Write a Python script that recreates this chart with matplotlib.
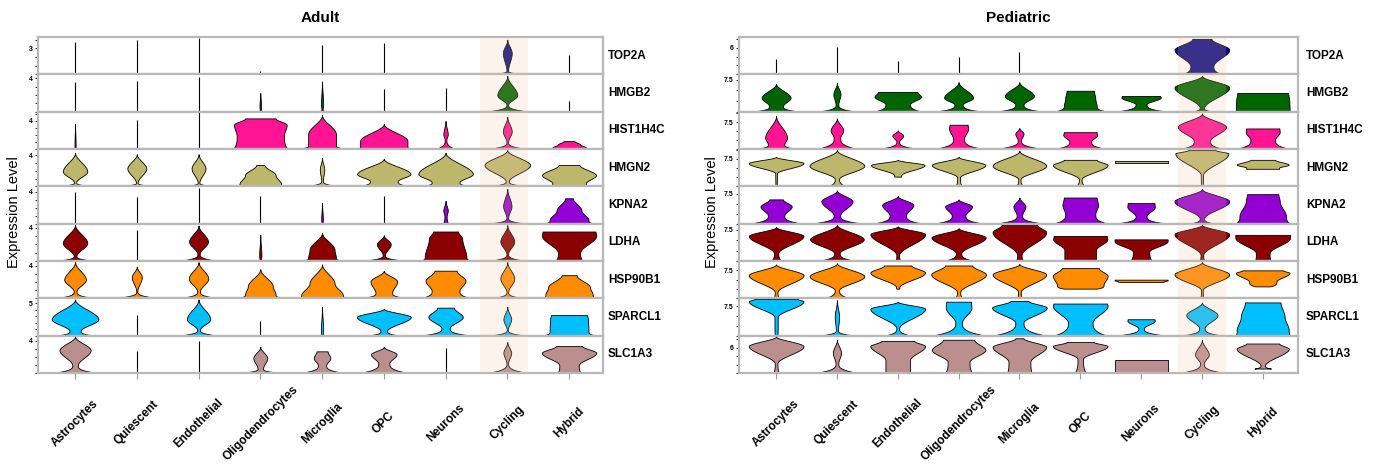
import matplotlib.pyplot as plt
import numpy as np

plt.rcParams['font.family'] = ['Liberation Sans', 'DejaVu Sans']

# ---------------------------------------------------------------------
# Data
# ---------------------------------------------------------------------

cell_types = ['Astrocytes', 'Quiescent', 'Endothelial', 'Oligodendrocytes',
              'Microglia', 'OPC', 'Neurons', 'Cycling', 'Hybrid']
genes = ['TOP2A', 'HMGB2', 'HIST1H4C', 'HMGN2', 'KPNA2',
         'LDHA', 'HSP90B1', 'SPARCL1', 'SLC1A3']
gene_colors = ['#0c0c84', 'darkgreen', 'deeppink', 'darkkhaki', 'darkviolet',
               'darkred', 'darkorange', 'deepskyblue', 'rosybrown']

# y axis of every row: (row max, tick step, labelled tick)
adult_axis = [(4.3, 1, 3), (4.5, 1, 4), (5.3, 1, 4), (4.8, 1, 4), (4.65, 1, 4),
              (4.5, 1, 4), (4.55, 1, 4), (5.8, 1, 5), (4.65, 1, 4)]
ped_axis = [(8.45, 2, 6), (8.8, 2.5, 7.5), (10.5, 2.5, 7.5), (10.2, 2.5, 7.5),
            (9.4, 2.5, 7.5), (9.0, 2.5, 7.5), (10.0, 2.5, 7.5), (9.5, 2.5, 7.5),
            (8.8, 2, 6)]

# violin profile, one per cell type
# (bottom, top, top_w, bulge_y, bulge_w, neck_y, neck_w, base_w)
# heights are a fraction of the row, widths a fraction of the full violin width
# a plain number is a single spike of that height, None is nothing drawn
adult_top2a = [0.87, 0.91, 0.96, 0.09, 0.78, 0.84, None,
               (0, 0.93, 0, 0.57, 0.16, 0.10, 0.03, 0.80), 0.52]
adult_hmgb2 = [0.79, 0.82, 0.93,
               (0, 0.50, 0, 0.15, 0.03, 0.04, 0.02, 0.12),
               (0, 0.81, 0, 0.20, 0.04, 0.05, 0.02, 0.36),
               0.61, 0.64,
               (0, 0.96, 0, 0.44, 0.36, 0.19, 0.03, 0.83), 0.28]
adult_hist1h4c = [(0, 0.68, 0, 0.10, 0.02, 0.05, 0.02, 0.06), 0.78, 1.0,
                  (0, 0.82, 0.55, 0.65, 0.95, 0.35, 0.85, 0.98),
                  (0, 0.91, 0, 0.40, 0.50, 0.10, 0.50, 0.98),
                  (0, 0.67, 0, 0.22, 0.85, 0.08, 0.85, 0.97),
                  (0, 0.75, 0, 0.39, 0.08, 0.25, 0.03, 0.36),
                  (0, 0.86, 0, 0.47, 0.16, 0.19, 0.03, 0.72),
                  (0, 0.21, 0.20, 0.12, 0.40, 0.04, 0.60, 0.85)]
adult_hmgn2 = [(0, 0.90, 0, 0.40, 0.44, 0.11, 0.04, 0.77),
               (0, 0.86, 0, 0.48, 0.34, 0.10, 0.03, 0.89),
               (0, 0.86, 0, 0.48, 0.25, 0.10, 0.03, 0.77),
               (0, 0.57, 0.15, 0.30, 0.55, 0.06, 0.75, 0.97),
               (0, 0.76, 0, 0.45, 0.08, 0.15, 0.03, 0.68),
               (0, 0.74, 0, 0.33, 0.96, 0.14, 0.50, 0.98),
               (0, 0.90, 0, 0.33, 0.98, 0.11, 0.50, 0.99),
               (0, 0.97, 0, 0.57, 0.82, 0.14, 0.06, 0.76),
               (0, 0.57, 0.38, 0.30, 0.97, 0.08, 0.60, 0.75)]
adult_kpna2 = [0.84, 0.72, 0.95, 0.75,
               (0, 0.56, 0, 0.10, 0.03, 0.04, 0.02, 0.10), 0.75,
               (0, 0.61, 0, 0.35, 0.08, 0.20, 0.04, 0.10),
               (0, 0.93, 0, 0.47, 0.15, 0.16, 0.03, 0.70),
               (0, 0.68, 0.14, 0.35, 0.45, 0.10, 0.70, 0.90)]
adult_ldha = [(0, 0.97, 0, 0.48, 0.44, 0.14, 0.05, 0.83), 0.83,
              (0, 0.95, 0, 0.52, 0.34, 0.19, 0.04, 0.77),
              (0, 0.70, 0, 0.15, 0.04, 0.05, 0.03, 0.12),
              (0, 0.76, 0, 0.30, 0.45, 0.08, 0.50, 0.92),
              (0, 0.69, 0, 0.45, 0.25, 0.16, 0.04, 0.91),
              (0, 0.79, 0.45, 0.60, 0.60, 0.10, 0.75, 0.97),
              (0, 0.96, 0, 0.52, 0.25, 0.19, 0.03, 0.70),
              (0, 0.79, 0.95, 0.68, 0.98, 0.22, 0.40, 0.50)]
adult_hsp90b1 = [(0, 0.97, 0, 0.50, 0.39, 0.19, 0.05, 0.77),
                 (0, 0.85, 0, 0.57, 0.18, 0.19, 0.02, 0.88),
                 (0, 0.97, 0, 0.53, 0.35, 0.19, 0.05, 0.77),
                 (0, 0.78, 0, 0.32, 0.45, 0.10, 0.55, 0.97),
                 (0, 0.91, 0, 0.40, 0.45, 0.08, 0.75, 0.97),
                 (0, 0.74, 0, 0.45, 0.48, 0.15, 0.30, 0.92),
                 (0, 0.74, 0.40, 0.47, 0.72, 0.20, 0.50, 0.96),
                 (0, 0.97, 0, 0.53, 0.25, 0.17, 0.03, 0.63),
                 (0, 0.62, 0.27, 0.30, 0.75, 0.10, 0.85, 0.97)]
adult_sparcl1 = [(0, 0.97, 0, 0.44, 0.84, 0.13, 0.20, 0.74), 0.55,
                 (0, 0.97, 0, 0.44, 0.42, 0.16, 0.05, 0.77), 0.39,
                 (0, 0.77, 0, 0.15, 0.04, 0.05, 0.03, 0.10),
                 (0, 0.72, 0, 0.50, 0.97, 0.13, 0.12, 0.62),
                 (0, 0.75, 0.30, 0.50, 0.62, 0.20, 0.15, 0.95),
                 (0, 0.77, 0, 0.44, 0.14, 0.16, 0.02, 0.70),
                 (0, 0.55, 0.65, 0.45, 0.68, 0.12, 0.70, 0.97)]
adult_slc1a3 = [(0, 0.98, 0, 0.61, 0.56, 0.21, 0.10, 0.84), 0.58, 0.86,
                (0, 0.70, 0, 0.40, 0.25, 0.12, 0.10, 0.87),
                (0, 0.58, 0.20, 0.40, 0.30, 0.21, 0.15, 0.81),
                (0, 0.70, 0, 0.50, 0.46, 0.26, 0.20, 0.91), 0.68,
                (0, 0.83, 0, 0.54, 0.14, 0.26, 0.03, 0.73),
                (0, 0.72, 0.48, 0.54, 0.98, 0.21, 0.35, 0.42)]

ped_top2a = [0.41, 0.73, 0.37, 0.46, 0.59, None, None,
             (0, 0.95, 0.35, 0.66, 1.0, 0.22, 0.42, 0.75), None]
ped_hmgb2 = [(0, 0.75, 0, 0.37, 0.53, 0.15, 0.25, 0.91),
             (0, 0.77, 0, 0.47, 0.13, 0.19, 0.05, 0.73),
             (0, 0.53, 0.72, 0.40, 0.85, 0.20, 0.45, 0.90),
             (0, 0.79, 0, 0.37, 0.53, 0.19, 0.15, 0.90),
             (0, 0.79, 0, 0.42, 0.53, 0.19, 0.15, 0.90),
             (0, 0.56, 0.50, 0.35, 0.55, 0.15, 0.60, 1.0),
             (0, 0.42, 0.70, 0.38, 0.72, 0.20, 0.20, 0.97),
             (0, 0.96, 0, 0.65, 1.0, 0.10, 0.08, 0.45),
             (0, 0.50, 0.93, 0.30, 0.97, 0.10, 0.98, 1.0)]
ped_hist1h4c = [(0, 0.89, 0, 0.30, 0.40, 0.12, 0.30, 0.85),
                (0, 0.82, 0, 0.50, 0.23, 0.30, 0.12, 0.75),
                (0, 0.50, 0, 0.36, 0.20, 0.20, 0.05, 0.77),
                (0, 0.65, 0.33, 0.55, 0.35, 0.27, 0.20, 0.90),
                (0, 0.56, 0, 0.41, 0.15, 0.23, 0.06, 0.90),
                (0, 0.45, 0.60, 0.38, 0.62, 0.20, 0.40, 1.0), None,
                (0, 0.95, 0, 0.59, 0.88, 0.22, 0.30, 0.80),
                (0, 0.55, 0.61, 0.45, 0.62, 0.25, 0.45, 1.0)]
ped_hmgn2 = [(0, 0.79, 0, 0.62, 1.0, 0.35, 0.03, 0.02),
             (0, 0.97, 0, 0.55, 1.0, 0.20, 0.08, 0.35),
             (0.26, 0.71, 0, 0.57, 0.98, 0.30, 0.13, 0.12),
             (0, 0.79, 0, 0.57, 0.98, 0.24, 0.05, 0.12),
             (0, 0.95, 0, 0.55, 0.98, 0.19, 0.04, 0.15),
             (0, 0.71, 0.60, 0.57, 1.0, 0.19, 0.05, 0.18),
             (0.62, 0.69, 0.97, 0.67, 0.97, 0.64, 0.97, 0.97),
             (0, 0.97, 0.50, 0.88, 0.97, 0.30, 0.04, 0.03),
             (0.47, 0.71, 0.45, 0.58, 0.95, 0.50, 0.60, 0.60)]
ped_kpna2 = [(0, 0.65, 0.25, 0.46, 0.57, 0.22, 0.30, 0.98),
             (0, 0.89, 0, 0.60, 0.57, 0.22, 0.12, 0.98),
             (0, 0.74, 0, 0.50, 0.57, 0.22, 0.30, 0.93),
             (0, 0.65, 0, 0.46, 0.49, 0.22, 0.25, 0.93),
             (0, 0.70, 0, 0.46, 0.22, 0.22, 0.10, 0.90),
             (0, 0.70, 0.60, 0.50, 0.65, 0.25, 0.55, 1.0),
             (0, 0.55, 0.49, 0.45, 0.50, 0.20, 0.20, 0.97),
             (0, 0.93, 0, 0.60, 1.0, 0.14, 0.08, 0.50),
             (0, 0.79, 0.57, 0.60, 0.62, 0.20, 0.85, 1.0)]
ped_ldha = [(0, 0.91, 0, 0.67, 1.0, 0.21, 0.08, 0.20),
            (0, 0.97, 0, 0.58, 0.98, 0.21, 0.10, 0.73),
            (0, 0.93, 0, 0.72, 1.0, 0.16, 0.05, 0.10),
            (0, 0.88, 0, 0.63, 0.99, 0.21, 0.10, 0.60),
            (0, 0.97, 0.65, 0.77, 0.98, 0.16, 0.08, 0.15),
            (0, 0.67, 0.97, 0.58, 0.99, 0.30, 0.58, 0.58),
            (0, 0.58, 0.97, 0.53, 0.97, 0.25, 0.30, 0.40),
            (0, 0.97, 0, 0.72, 1.0, 0.16, 0.05, 0.10),
            (0, 0.70, 1.0, 0.62, 1.0, 0.21, 0.25, 0.28)]
ped_hsp90b1 = [(0, 0.91, 0, 0.62, 1.0, 0.17, 0.05, 0.10),
               (0, 0.94, 0, 0.59, 1.0, 0.22, 0.08, 0.49),
               (0.26, 0.88, 0.50, 0.69, 1.0, 0.30, 0.06, 0.05),
               (0, 0.88, 0.50, 0.64, 1.0, 0.17, 0.06, 0.15),
               (0, 0.92, 0, 0.64, 0.98, 0.17, 0.05, 0.10),
               (0.26, 0.81, 0.68, 0.60, 1.0, 0.35, 0.85, 0.60),
               (0.44, 0.50, 0.97, 0.48, 0.97, 0.46, 0.85, 0.80),
               (0, 0.97, 0, 0.64, 1.0, 0.22, 0.03, 0.07),
               (0.32, 0.75, 0.75, 0.68, 0.98, 0.45, 0.50, 0.28)]
ped_sparcl1 = [(0, 0.98, 0.80, 0.92, 1.0, 0.50, 0.06, 0.05),
               (0, 0.95, 0, 0.50, 0.08, 0.15, 0.04, 0.70),
               (0, 0.91, 0, 0.72, 1.0, 0.20, 0.05, 0.50),
               (0, 0.91, 0.45, 0.75, 0.47, 0.35, 0.12, 0.98),
               (0, 0.93, 0.33, 0.75, 1.0, 0.35, 0.15, 0.98),
               (0, 0.86, 0.98, 0.80, 1.0, 0.35, 0.45, 0.98),
               (0, 0.44, 0.49, 0.40, 0.50, 0.20, 0.10, 0.94),
               (0, 0.89, 0, 0.55, 0.57, 0.20, 0.10, 0.77),
               (0, 0.89, 0.65, 0.50, 0.80, 0.15, 0.95, 1.0)]
ped_slc1a3 = [(0, 0.98, 0, 0.72, 1.0, 0.26, 0.05, 0.10),
              (0, 0.89, 0, 0.54, 0.15, 0.26, 0.05, 0.80),
              (0, 0.86, 0.60, 0.72, 1.0, 0.35, 0.45, 0.45),
              (0, 0.89, 0.57, 0.62, 0.98, 0.30, 0.40, 0.50),
              (0, 0.93, 0.15, 0.70, 0.98, 0.30, 0.40, 0.45),
              (0, 0.83, 0.50, 0.72, 1.0, 0.38, 0.10, 0.20),
              (0, 0.35, 0.97, 0.30, 0.97, 0.10, 0.97, 0.97),
              (0, 0.89, 0, 0.49, 0.25, 0.26, 0.07, 0.85),
              (0.12, 0.79, 0.60, 0.65, 0.95, 0.20, 0.08, 0.30)]

adult_rows = [adult_top2a, adult_hmgb2, adult_hist1h4c, adult_hmgn2, adult_kpna2,
              adult_ldha, adult_hsp90b1, adult_sparcl1, adult_slc1a3]
ped_rows = [ped_top2a, ped_hmgb2, ped_hist1h4c, ped_hmgn2, ped_kpna2,
            ped_ldha, ped_hsp90b1, ped_sparcl1, ped_slc1a3]


# ---------------------------------------------------------------------
# Helpers
# ---------------------------------------------------------------------

def smooth(s):
    return s * s * (3 - 2 * s)


def violin_shape(v, n=40):
    bottom, top, top_w, bulge_y, bulge_w, neck_y, neck_w, base_w = v
    s = np.linspace(0, 1, n)
    # flared foot, then the body up to the widest point, then the head
    y = np.concatenate([bottom + (neck_y - bottom) * s,
                        neck_y + (bulge_y - neck_y) * s,
                        bulge_y + (top - bulge_y) * s])
    w = np.concatenate([neck_w + (base_w - neck_w) * (1 - s) ** 3,
                        neck_w + (bulge_w - neck_w) * smooth(s),
                        bulge_w + (top_w - bulge_w) * smooth(s)])
    return y, w


fig = plt.figure(figsize=(13.87, 4.76), dpi=100)
grid_top, grid_bottom = 1 - 37 / 476, 1 - 373 / 476
row_h = (grid_top - grid_bottom) / 9


def draw_panel(x0, x1, rows, axis_info, title, xlim, span, ylab_x, gene_pad):
    for r, gene in enumerate(genes):
        ax = fig.add_axes([x0, grid_top - (r + 1) * row_h, x1 - x0, row_h])
        ymax, step, lab = axis_info[r]
        color = gene_colors[r]
        for i, v in enumerate(rows[r]):
            if v is None:
                continue
            if not isinstance(v, tuple):
                ax.vlines(i, 0, v * ymax, color='black', lw=0.8, zorder=2)
                continue
            y, w = violin_shape(v)
            ax.fill_betweenx(y * ymax, i - w * 0.45, i + w * 0.45,
                             facecolor=color, edgecolor='black', lw=0.6, zorder=2)
        ax.axvspan(span[0], span[1], facecolor='#F0C3A5', alpha=0.2, lw=0, zorder=4)
        ax.set_xlim(*xlim)
        ax.set_ylim(0, ymax)
        ticks = np.arange(0, ymax, step)
        ax.set_yticks(ticks)
        ax.set_yticklabels([f'{t:g}' if abs(t - lab) < 1e-9 else '' for t in ticks],
                           fontsize=5, fontweight='bold')
        ax.tick_params(axis='y', length=2.5, width=0.6, pad=1.5)
        for sp in ax.spines.values():
            sp.set_color('#b8b8b8')
            sp.set_linewidth(1.6)
        ax.text(1 + gene_pad, 0.5, gene, transform=ax.transAxes, ha='left',
                va='center', fontsize=8.5, fontweight='bold')
        ax.set_xticks(range(len(cell_types)))
        if r < len(genes) - 1:
            ax.tick_params(axis='x', length=0, labelbottom=False)
        else:
            ax.set_xticklabels(cell_types, rotation=45, ha='center', va='center',
                               fontsize=8.5, fontweight='bold')
            ax.tick_params(axis='x', length=4, color='#999999', pad=32)
    fig.text((x0 + x1) / 2, 1 - 18 / 476, title, ha='center', va='center',
             fontsize=11, fontweight='bold')
    fig.text(ylab_x, 0.555, 'Expression Level', rotation=90, ha='center',
             va='center', fontsize=10.5)


draw_panel(38 / 1387, 603 / 1387, adult_rows, adult_axis, 'Adult',
           (-0.6, 8.55), (6.56, 7.34), 14 / 1387, 0.009)
draw_panel(739 / 1387, 1298 / 1387, ped_rows, ped_axis, 'Pediatric',
           (-0.61, 8.58), (6.6, 7.4), 712 / 1387, 0.014)

plt.savefig('out.png', dpi=100)
